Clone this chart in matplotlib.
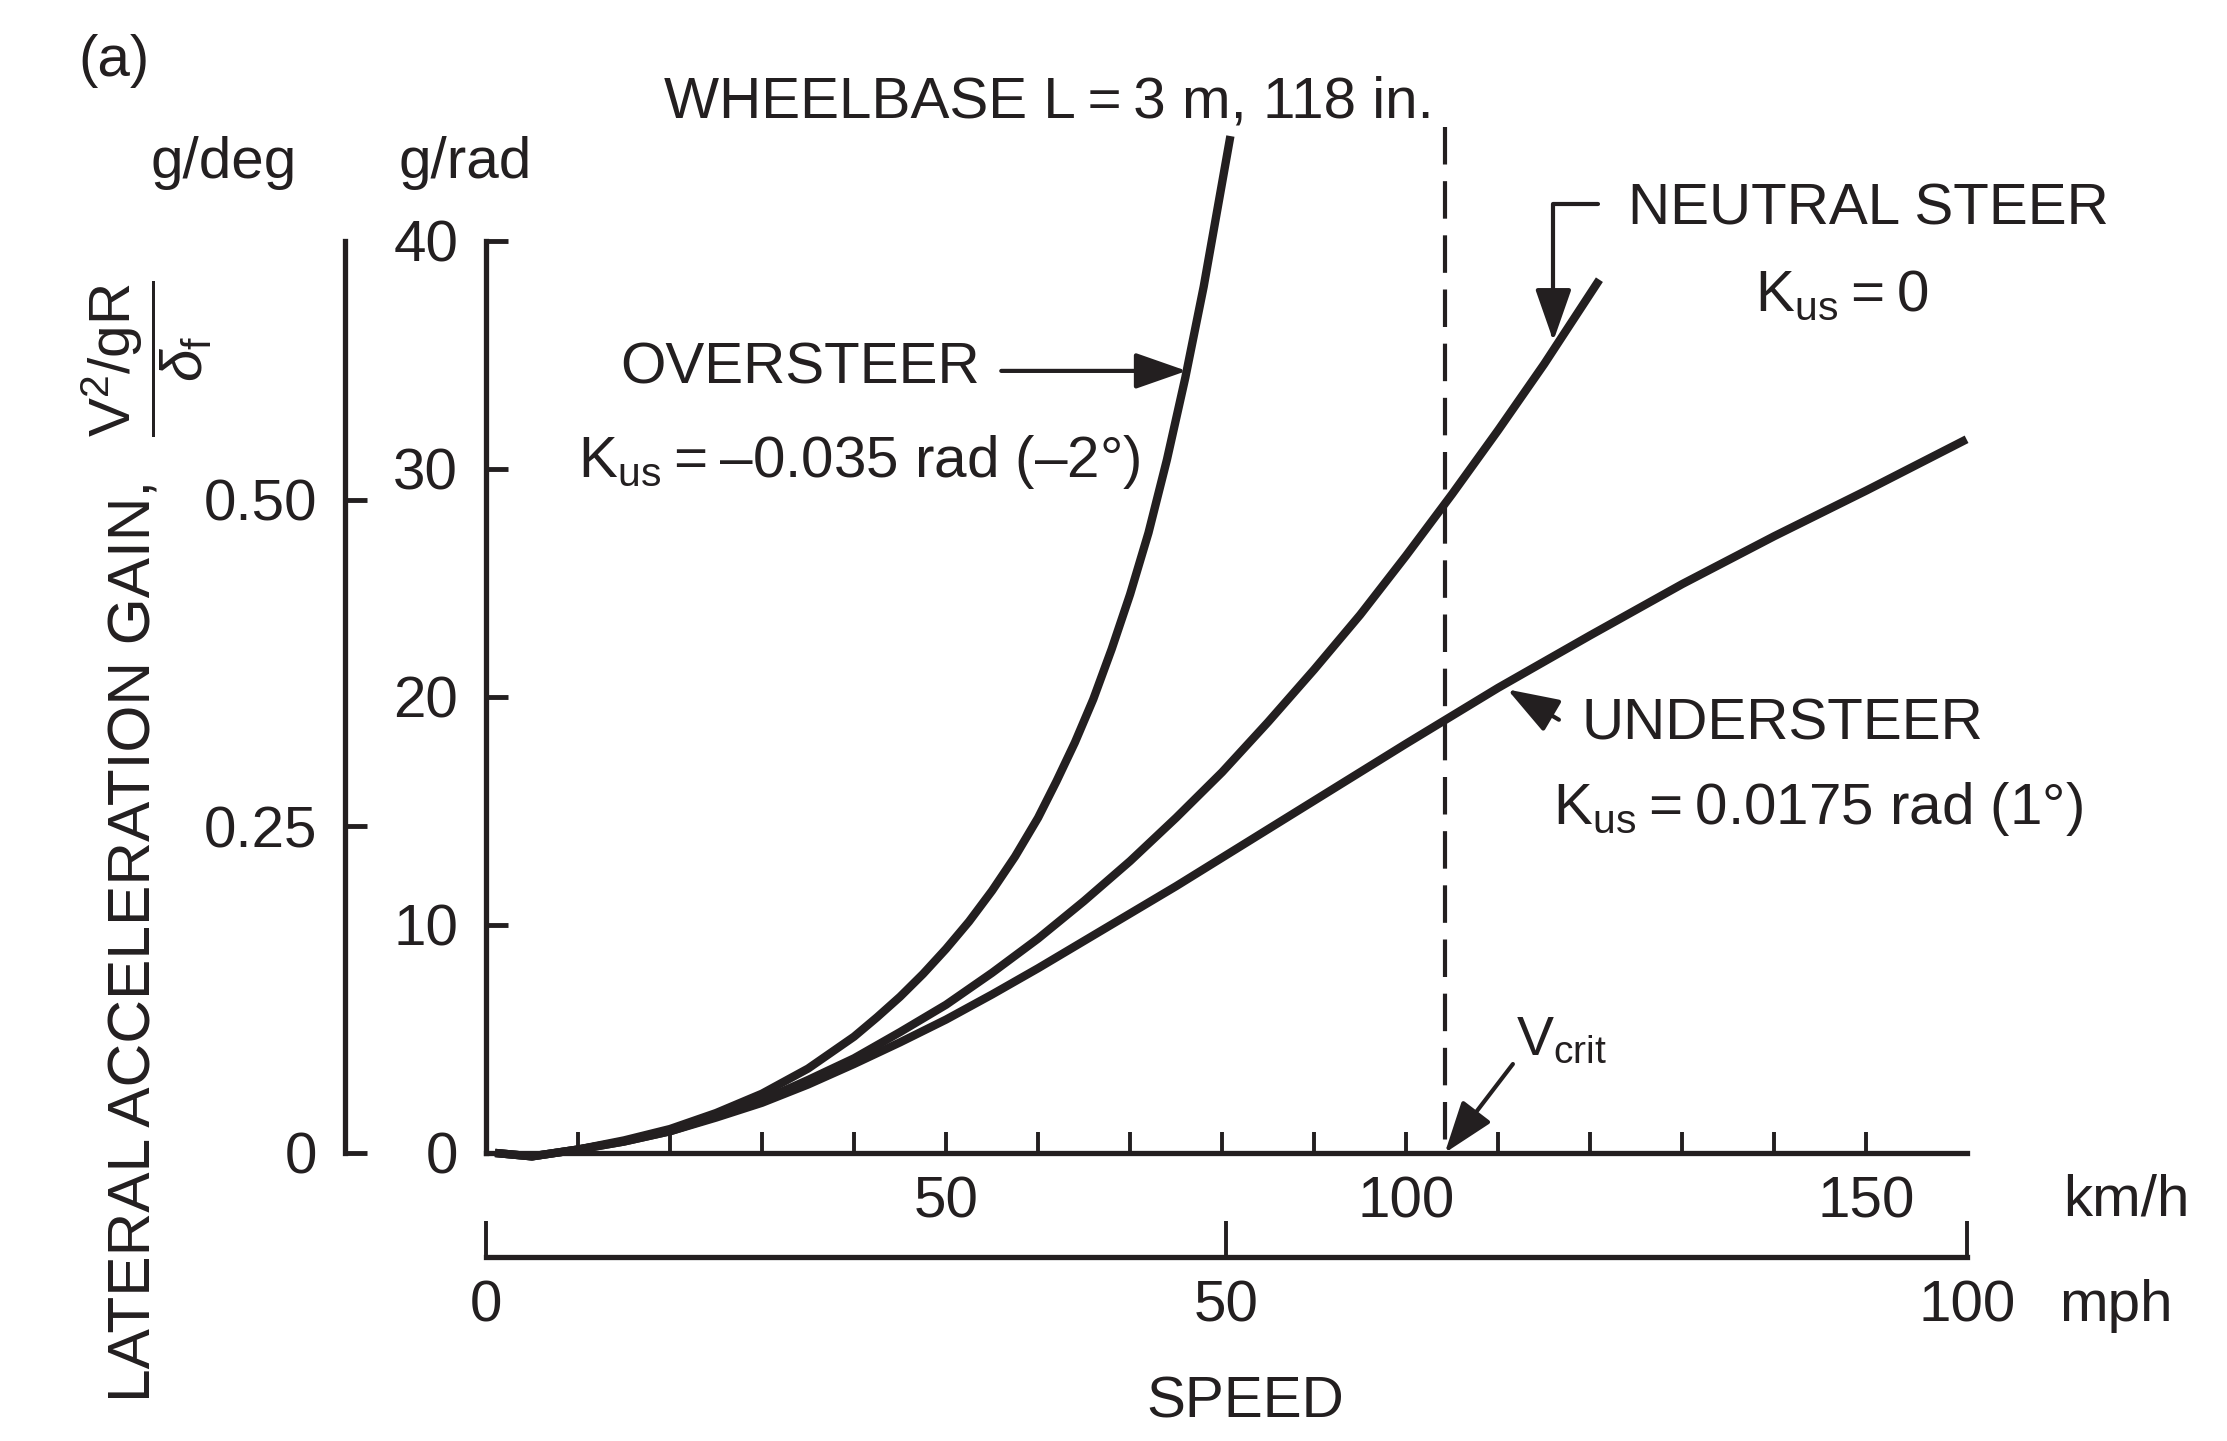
import numpy as np
import matplotlib
matplotlib.use("Agg")
import matplotlib.pyplot as plt

plt.rcParams['font.family'] = ['Liberation Sans', 'DejaVu Sans']
plt.rcParams['mathtext.fontset'] = 'custom'
plt.rcParams['mathtext.rm'] = 'Liberation Sans'
plt.rcParams['mathtext.it'] = 'Liberation Sans:italic'
plt.rcParams['mathtext.sf'] = 'Liberation Sans'

INK = '#231f20'

# speed in km/h, gain in g/rad
speed_over = [1, 5, 10, 15, 20, 25, 30, 35, 40, 42.5, 45, 47.5, 50, 52.5, 55, 57.5, 60, 62, 64, 66, 68, 70, 72,
              74, 76, 78, 80.9]
gain_over = [0, -0.15, 0.15, 0.55, 1.05, 1.75, 2.6, 3.7, 5.1, 5.95, 6.85, 7.85, 8.95, 10.15, 11.5, 13.0, 14.7,
             16.3, 18.0, 19.9, 22.1, 24.5, 27.2, 30.4, 34.0, 38.0, 44.6]

speed_neutral = [1, 5, 10, 15, 20, 25, 30, 35, 40, 45, 50, 55, 60, 65, 70, 75, 80, 85, 90, 95, 100, 105, 110, 115, 121]
gain_neutral = [0, -0.15, 0.15, 0.5, 0.95, 1.6, 2.3, 3.2, 4.15, 5.3, 6.5, 7.9, 9.4, 11.05, 12.8, 14.7, 16.7, 18.9,
                21.2, 23.6, 26.2, 28.9, 31.7, 34.6, 38.3]

speed_under = [1, 5, 10, 15, 20, 25, 30, 35, 40, 45, 50, 55, 60, 65, 70, 75, 80, 90, 100, 110, 120, 130, 140, 150,
               160.9]
gain_under = [0, -0.15, 0.15, 0.5, 0.95, 1.55, 2.2, 3.0, 3.9, 4.85, 5.85, 6.95, 8.1, 9.3, 10.5, 11.7, 12.95, 15.45,
              17.95, 20.4, 22.7, 24.95, 27.05, 29.05, 31.3]

V_CRIT = 104.2  # km/h

kmh_ticks = list(range(10, 160, 10))
kmh_labels = ['50' if t == 50 else '100' if t == 100 else '150' if t == 150 else '' for t in kmh_ticks]
mph_ticks = [0, 50, 100]
rad_ticks = [0, 10, 20, 30, 40]
deg_ticks = [0, 0.25, 0.5]
deg_labels = ['0', '0.25', '0.50']

FS = 42
KMH_PER_MPH = 1.609344

fig = plt.figure(figsize=(22.27, 14.41), dpi=100)
ax = fig.add_axes([0.2182, 0.1999, 0.665, 0.6329])
ax.set_xlim(0, 100 * KMH_PER_MPH)
ax.set_ylim(0, 40)
for s in ['top', 'right']:
    ax.spines[s].set_visible(False)
for s in ['left', 'bottom']:
    ax.spines[s].set_linewidth(3.8)
    ax.spines[s].set_color(INK)

ax.set_yticks(rad_ticks)
ax.set_yticklabels([str(t) for t in rad_ticks])
ax.tick_params(axis='y', direction='in', length=16, width=3.5, pad=20, labelsize=FS, colors=INK)
ax.set_xticks(kmh_ticks)
ax.set_xticklabels(kmh_labels)
ax.tick_params(axis='x', direction='in', length=15, width=2.8, pad=16, labelsize=FS, colors=INK)

# mph scale below
secx = ax.secondary_xaxis(-0.114, functions=(lambda k: k / KMH_PER_MPH, lambda m: m * KMH_PER_MPH))
secx.set_xticks(mph_ticks)
secx.set_xticklabels([str(t) for t in mph_ticks])
secx.tick_params(direction='in', length=26, width=2.8, pad=16, labelsize=FS, colors=INK)
secx.spines['bottom'].set_linewidth(3.8)
secx.spines['bottom'].set_color(INK)

# g/deg scale on the left
secy = ax.secondary_yaxis(-0.0952, functions=(lambda g: g / 57.3, lambda d: d * 57.3))
secy.set_yticks(deg_ticks)
secy.set_yticklabels(deg_labels)
secy.tick_params(direction='in', length=16, width=3.5, pad=20, labelsize=FS, colors=INK)
secy.spines['left'].set_linewidth(3.8)
secy.spines['left'].set_color(INK)

# curves
for sp, gn in [(speed_over, gain_over), (speed_neutral, gain_neutral), (speed_under, gain_under)]:
    ax.plot(sp, gn, color=INK, lw=6, clip_on=False, solid_capstyle='butt', solid_joinstyle='round')

ax.plot([V_CRIT, V_CRIT], [45, 0], color=INK, lw=3, ls=(0, (9, 4)), clip_on=False)

arrow = dict(arrowstyle='-|>,head_length=0.8,head_width=0.28', color=INK, lw=3, mutation_scale=40,
             shrinkA=0, shrinkB=0)

# oversteer label + arrow
ax.text(34.1, 34.4, 'OVERSTEER', fontsize=FS, ha='center', va='center', color=INK)
g_os = 34.3
ax.annotate('', xy=(np.interp(g_os, gain_over[2:], speed_over[2:]), g_os), xytext=(56.0, g_os),
            arrowprops=arrow, annotation_clip=False)
ax.text(40.6, 30.3, 'K$_{\\mathrm{us}}$\u2009=\u2009\u20130.035 rad (\u20132\u00b0)', fontsize=FS, ha='center',
        va='center', color=INK)

# neutral steer label + elbow arrow
ax.text(150.2, 41.4, 'NEUTRAL STEER', fontsize=FS, ha='center', va='center', color=INK)
ax.text(147.4, 37.6, 'K$_{\\mathrm{us}}$\u2009=\u20090', fontsize=FS, ha='center', va='center', color=INK)
v_ns = 116.0
elbow = dict(arrow, connectionstyle='angle,angleA=180,angleB=90,rad=0')
ax.annotate('', xy=(v_ns, np.interp(v_ns, speed_neutral, gain_neutral) + 0.4), xytext=(120.8, 41.6),
            arrowprops=elbow, annotation_clip=False)

# understeer label + arrow
ax.text(140.9, 18.8, 'UNDERSTEER', fontsize=FS, ha='center', va='center', color=INK)
ax.text(144.8, 15.1, 'K$_{\\mathrm{us}}$\u2009=\u20090.0175 rad (1\u00b0)', fontsize=FS, ha='center',
        va='center', color=INK)
v_us = 111.0
ax.annotate('', xy=(v_us, np.interp(v_us, speed_under, gain_under) - 0.3), xytext=(116.6, 19.0),
            arrowprops=arrow, annotation_clip=False)

# critical speed
ax.text(111.9, 4.9, 'V$_{\\mathrm{crit}}$', fontsize=40, ha='left', va='center', color=INK)
ax.annotate('', xy=(V_CRIT, 0), xytext=(111.6, 3.9), arrowprops=arrow, annotation_clip=False)

# figure texts
fig.text(0.051, 0.958, '(a)', fontsize=FS, ha='center', va='center', color=INK)
fig.text(0.644, 0.929, 'WHEELBASE L\u2009=\u20093 m, 118 in.', fontsize=FS, ha='right', va='center', color=INK)
fig.text(0.1006, 0.887, 'g/deg', fontsize=FS, ha='center', va='center', color=INK)
fig.text(0.209, 0.887, 'g/rad', fontsize=FS, ha='center', va='center', color=INK)
fig.text(0.9546, 0.167, 'km/h', fontsize=FS, ha='center', va='center', color=INK)
fig.text(0.950, 0.0937, 'mph', fontsize=FS, ha='center', va='center', color=INK)
fig.text(0.559, 0.027, 'SPEED', fontsize=FS, ha='center', va='center', color=INK)
fig.text(0.0606, 0.347, 'LATERAL ACCELERATION GAIN,', fontsize=43.5, rotation=90, ha='center', va='center',
         color=INK)
fig.text(0.0656, 0.751, r'$\dfrac{\mathrm{V^2/gR}}{\delta_\mathrm{f}}$', fontsize=FS, rotation=90,
         ha='center', va='center', color=INK)

fig.savefig('out.png', dpi=100, facecolor='white')
